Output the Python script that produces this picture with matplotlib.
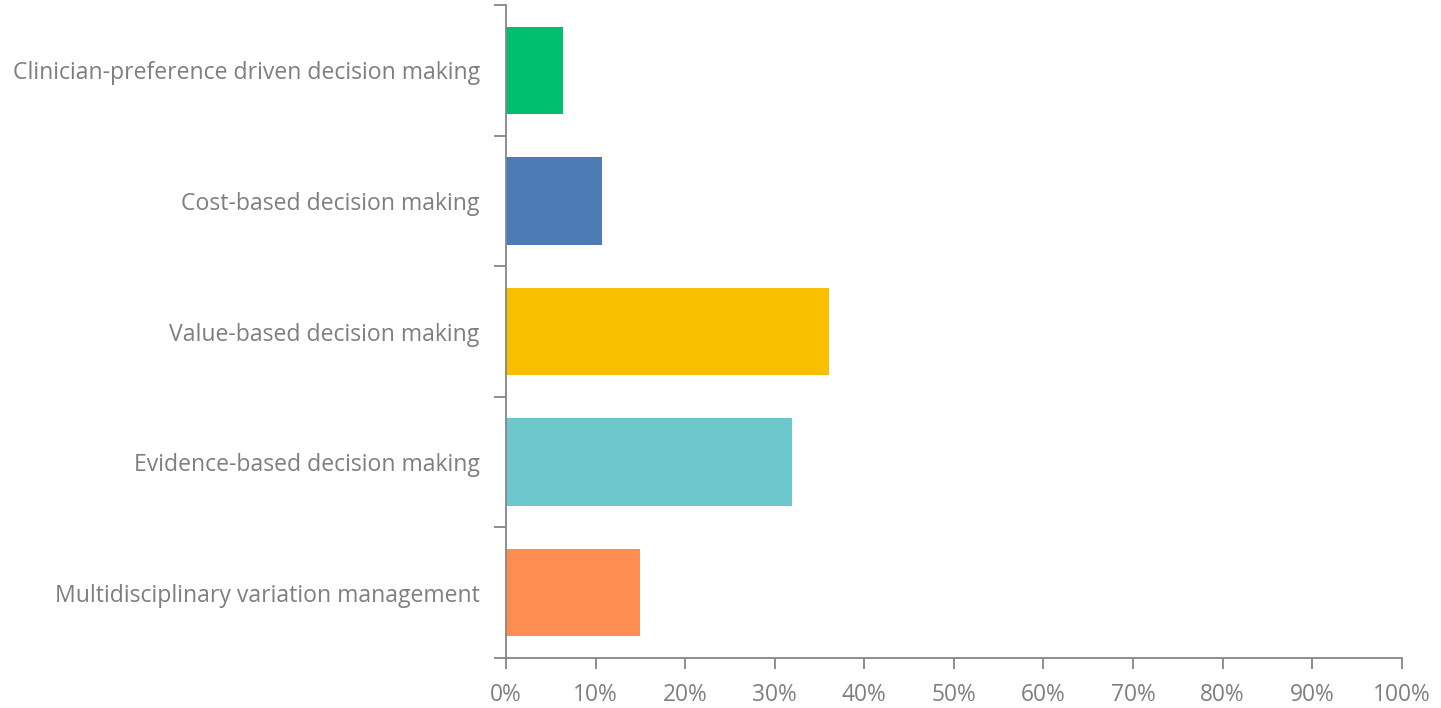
import numpy as np
import matplotlib.pyplot as plt
from matplotlib.ticker import PercentFormatter, FixedLocator

categories = [
    "Multidisciplinary variation management",
    "Evidence-based decision making",
    "Value-based decision making",
    "Cost-based decision making",
    "Clinician-preference driven decision making",
]
shares = [14.9, 31.9, 36.1, 10.7, 6.4]
colors = ["#FF8C50", "#6CC8CC", "#F8BE00", "#4E7AB5", "#00BF6F"]

plt.rcParams['font.family'] = ['Open Sans', 'DejaVu Sans']
gray = "#7F7F7F"
axis_gray = "#868686"

fig = plt.figure(figsize=(14.41, 7.08), dpi=100)
ax = fig.add_axes([0.3512, 0.0706, 0.6215, 0.9223])

y = np.arange(len(categories))
ax.barh(y, shares, height=0.67, color=colors)

ax.set_xlim(0, 100)
ax.set_ylim(-0.5, len(categories) - 0.5)
ax.set_xticks(np.arange(0, 101, 10))
ax.xaxis.set_major_formatter(PercentFormatter(decimals=0))

# category labels on major ticks (hidden), tick marks on boundaries
ax.set_yticks(y)
ax.set_yticklabels(categories)
ax.yaxis.set_minor_locator(FixedLocator(np.arange(-0.5, len(categories), 1)))
ax.tick_params(axis='y', which='major', length=0, pad=19, labelsize=16.6, labelcolor=gray)
ax.tick_params(axis='y', which='minor', length=9, width=1.3, color=axis_gray)
ax.tick_params(axis='x', which='major', length=8, width=1.3, color=axis_gray,
               labelsize=16.4, labelcolor=gray, pad=10)

for side in ['top', 'right']:
    ax.spines[side].set_visible(False)
for side in ['left', 'bottom']:
    ax.spines[side].set_color(axis_gray)
    ax.spines[side].set_linewidth(1.3)

fig.savefig("out.png", dpi=100)
